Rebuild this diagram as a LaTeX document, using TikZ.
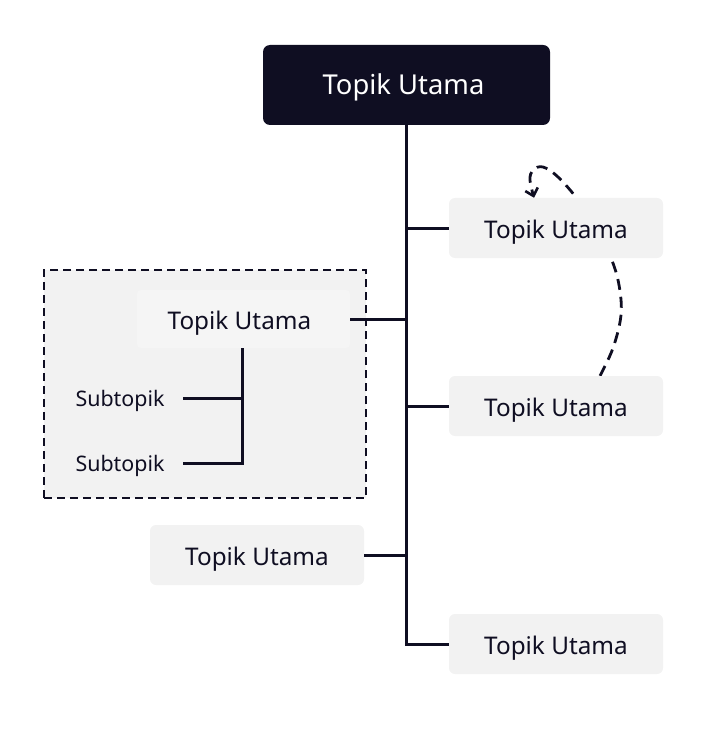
\documentclass[tikz,border=0pt]{standalone}
\usepackage{fontspec}
\setmainfont{Noto Sans}
\usetikzlibrary{arrows.meta,backgrounds}
\definecolor{ink}{RGB}{15,14,34}
\definecolor{paleg}{RGB}{242,242,242}
\definecolor{paleh}{RGB}{245,245,245}
\tikzset{
  topic/.style={fill=paleg, rounded corners=6pt, minimum width=214pt, minimum height=60pt, inner sep=0pt, text=ink, font=\fontsize{24.3}{28}\selectfont, text height=20pt, text depth=0pt},
  roottopic/.style={fill=ink, rounded corners=7pt, minimum width=287pt, minimum height=80pt, inner sep=0pt, text=white, font=\fontsize{27.4}{32}\selectfont, text height=20pt, text depth=0pt},
  subt/.style={minimum width=126pt, inner sep=0pt, text=ink, font=\fontsize{21.4}{25}\selectfont, text height=16pt, text depth=0pt},
  conn/.style={draw=ink, line width=3pt},
  grpbox/.style={draw=ink, fill=paleg, dashed, dash pattern=on 8pt off 5pt, line width=2.4pt, minimum width=322pt, minimum height=228pt, inner sep=0pt},
  relcurve/.style={draw=ink, line width=2.8pt, dash pattern=on 11pt off 7pt, -{Straight Barb[length=7pt,width=13pt,line width=2.6pt]}}
}
\begin{document}
\begin{tikzpicture}[x=1pt,y=-1pt]
\useasboundingbox (0,0) rectangle (710,735);
\node[grpbox] (grp) at (205,384) {};
\node[roottopic] (root) at (406.5,85) {\hspace{-6pt}Topik Utama};
\node[topic] (n1) at (556,228) {Topik Utama};
\node[topic, fill=paleh, rounded corners=4pt, minimum width=213pt, minimum height=58pt] (g) at (243.5,319) {\hspace{-8pt}Topik Utama};
\node[topic] (n2) at (556,406) {Topik Utama};
\node[topic] (n3) at (257,555) {Topik Utama};
\node[topic] (n4) at (556,644) {Topik Utama};
\node[subt] (s1) at (120,398) {Subtopik};
\node[subt] (s2) at (120,463) {Subtopik};
% trunk and branches
\draw[conn] (root.south) -- (root.south |- n4.west) -- (n4.west);
\draw[conn] (n1.west) -- (n1.west -| root.south);
\draw[conn] (g.east) -- (g.east -| root.south);
\draw[conn] (n2.west) -- (n2.west -| root.south);
\draw[conn] (n3.east) -- (n3.east -| root.south);
% subtopics
\coordinate (gs) at (242,348);
\draw[conn] (gs) -- (gs |- s2.east) -- (s2.east);
\draw[conn] (s1.east) -- (s1.east -| gs);
% relation curve behind n1
\coordinate (cs) at ([xshift=44pt]n2.north);
\coordinate (ce) at ([xshift=-22pt]n1.north);
\begin{pgfonlayer}{background}
\draw[relcurve] plot[smooth, tension=0.6] coordinates {(cs) (613,348) (621,315) (619,285) (611,258) (597,230) (578,200) (558,177) (543,167) (533,170) (530,180) (ce)};
\end{pgfonlayer}
\end{tikzpicture}
\end{document}
